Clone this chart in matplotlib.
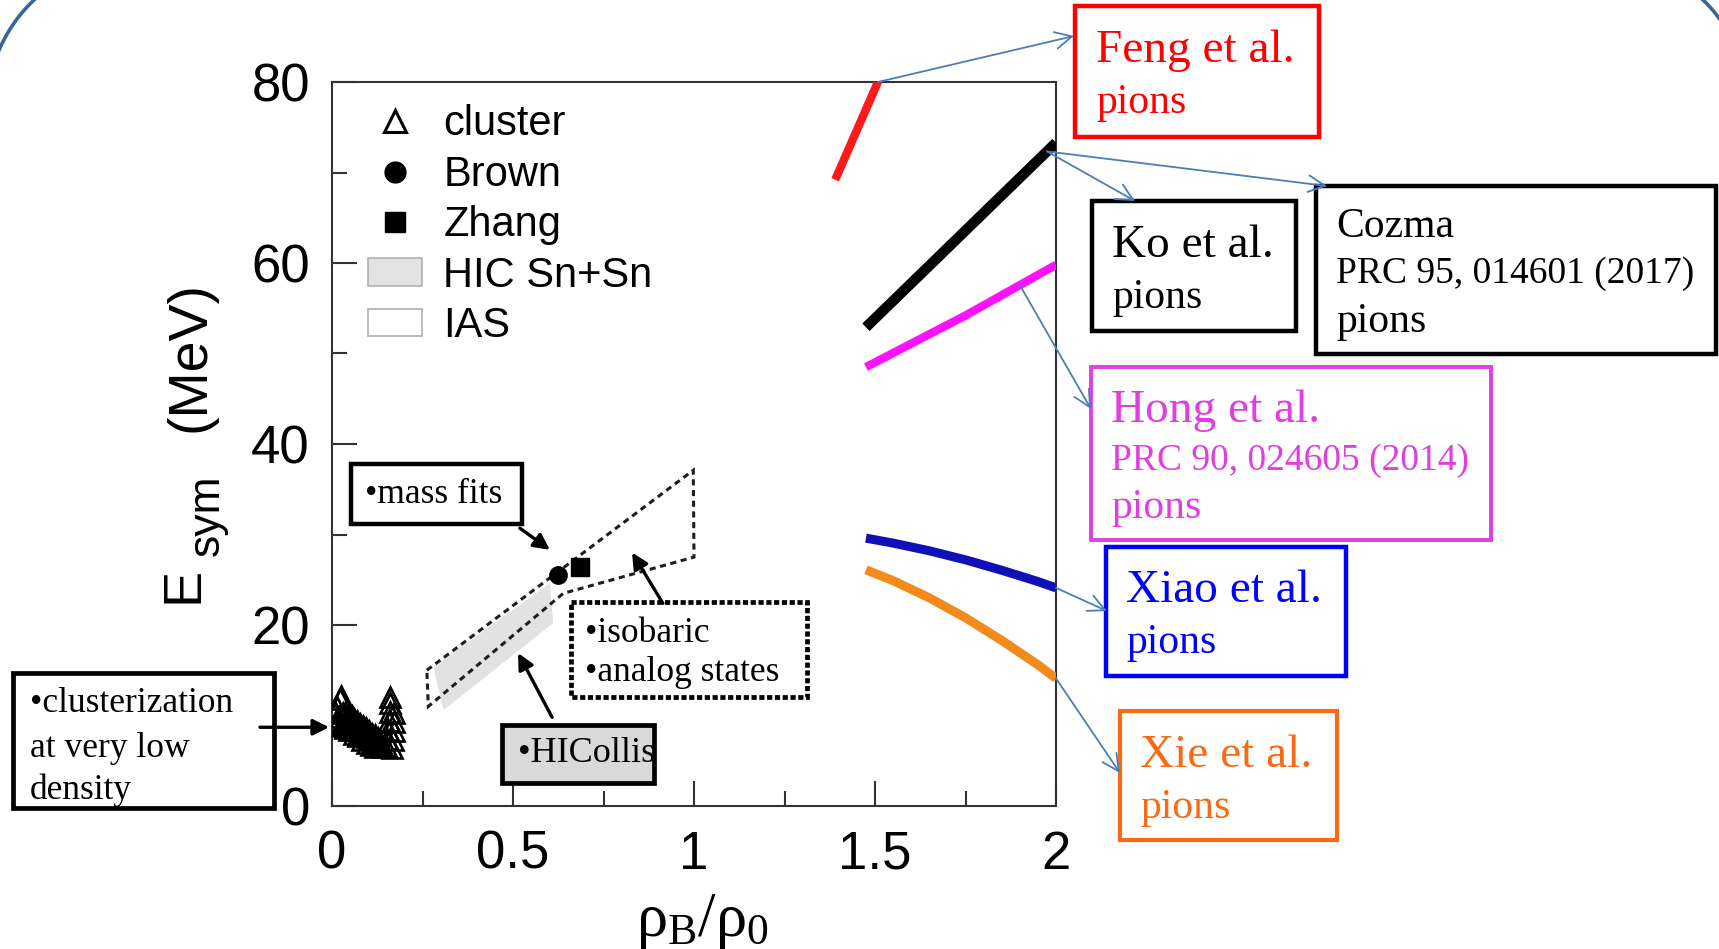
import numpy as np
import matplotlib
matplotlib.use("Agg")
import matplotlib.pyplot as plt
from matplotlib.patches import Rectangle, Polygon, Arc, Patch
from matplotlib.lines import Line2D

# ---------------- data ----------------
cluster_x = [0.006, 0.010, 0.014, 0.018, 0.022, 0.026, 0.030, 0.034, 0.038, 0.042,
             0.046, 0.050, 0.054, 0.058, 0.062, 0.066, 0.070, 0.074, 0.078, 0.082,
             0.086, 0.090, 0.094, 0.098, 0.102, 0.106, 0.110, 0.114, 0.118, 0.122,
             0.126, 0.130, 0.136, 0.142, 0.148,
             0.012, 0.024, 0.036, 0.048, 0.060, 0.072, 0.084, 0.096, 0.108, 0.120,
             0.152, 0.156, 0.158, 0.160, 0.161, 0.160, 0.166, 0.168, 0.170, 0.172, 0.172]
cluster_y = [10.6, 9.4, 10.9, 9.8, 11.8, 12.2, 10.3, 9.2, 10.5, 9.6,
             10.2, 9.0, 9.9, 8.8, 9.6, 8.6, 9.4, 8.3, 9.1, 8.1,
             8.8, 7.8, 8.6, 7.6, 8.3, 7.4, 8.0, 7.2, 7.8, 7.0,
             7.5, 6.8, 6.7, 6.5, 6.6,
             8.8, 9.0, 8.6, 8.4, 8.0, 7.7, 7.3, 7.0, 6.7, 6.5,
             7.4, 8.4, 9.4, 10.4, 11.4, 12.0, 6.4, 7.3, 8.3, 9.3, 10.3]

brown_x, brown_y = [0.624], [25.5]
zhang_x, zhang_y = [0.685], [26.4]

hic_x = [0.280, 0.602, 0.611, 0.308]
hic_y = [15.4, 24.6, 20.2, 10.6]

ias_x = [0.262, 0.998, 1.000, 0.639, 0.266]
ias_y = [15.0, 37.1, 27.5, 23.5, 11.0]

feng_x = [1.39, 1.53]
feng_y = [69.2, 82.0]
ko_x = [1.475, 2.0]
ko_y = [52.9, 73.3]
hong_x = [1.475, 1.75, 2.0]
hong_y = [48.5, 54.2, 59.8]
xiao_x = [1.475, 1.55, 1.65, 1.75, 1.85, 1.95, 2.0]
xiao_y = [29.6, 29.05, 28.2, 27.2, 26.05, 24.8, 24.1]
xie_x = [1.475, 1.55, 1.65, 1.75, 1.85, 1.95, 2.0]
xie_y = [26.1, 24.9, 23.0, 20.8, 18.3, 15.6, 14.1]

xticks = [0, 0.5, 1, 1.5, 2]
xticklabels = ["0", "0.5", "1", "1.5", "2"]
xminor = [0.25, 0.75, 1.25, 1.75]
yticks = [0, 20, 40, 60, 80]
yticklabels = ["0", "20", "40", "60", "80"]
yminor = [10, 30, 50, 70]

legend_labels = ["cluster", "Brown", "Zhang", "HIC Sn+Sn", "IAS"]

# ---------------- figure ----------------
plt.rcParams["mathtext.fontset"] = "custom"
plt.rcParams["mathtext.rm"] = "Liberation Serif"
plt.rcParams["mathtext.it"] = "Liberation Serif"
plt.rcParams["mathtext.bf"] = "Liberation Serif:bold"

W, H = 1719, 949
fig = plt.figure(figsize=(W / 100, H / 100), dpi=100)
fig.patch.set_facecolor("white")

L, R, T, B = 332, 1056, 82, 806
ax = fig.add_axes([L / W, 1 - B / H, (R - L) / W, (B - T) / H])
ax.set_xlim(0, 2)
ax.set_ylim(0, 80)

sans = "Liberation Sans"
serif = "Liberation Serif"

# bands
ax.add_patch(Polygon(np.column_stack([hic_x, hic_y]), closed=True,
                     facecolor="#e2e2e2", edgecolor="none", zorder=1))
ax.add_patch(Polygon(np.column_stack([ias_x, ias_y]), closed=True, fill=False,
                     edgecolor="#1e1e1e", lw=2.2, linestyle=(0, (2.0, 1.5)), zorder=2))

# points
ax.plot(cluster_x, cluster_y, ls="none", marker="^", ms=15, mfc="none",
        mec="black", mew=1.9, zorder=3)
ax.plot(brown_x, brown_y, ls="none", marker="o", ms=12.5, color="black", zorder=4)
ax.plot(zhang_x, zhang_y, ls="none", marker="s", ms=12.5, color="black", zorder=4)

# pion-based curves
ax.plot(feng_x, feng_y, color="#ff1a1a", lw=6, solid_capstyle="butt", zorder=4)
ax.plot(ko_x, ko_y, color="black", lw=7.5, solid_capstyle="butt", zorder=4)
ax.plot(hong_x, hong_y, color="#ff10ff", lw=6, solid_capstyle="butt", zorder=4)
ax.plot(xiao_x, xiao_y, color="#1010b8", lw=6.5, solid_capstyle="butt", zorder=4)
ax.plot(xie_x, xie_y, color="#f28a1c", lw=6.5, solid_capstyle="butt", zorder=4)

# axes styling
for s in ax.spines.values():
    s.set_linewidth(1.5)
    s.set_color("#333333")
ax.set_xticks(xticks)
ax.set_xticklabels(xticklabels)
ax.set_xticks(xminor, minor=True)
ax.set_yticks(yticks)
ax.set_yticklabels(yticklabels)
ax.set_yticks(yminor, minor=True)
ax.tick_params(which="major", direction="in", length=18, width=1.5,
               labelsize=38, color="#333333")
ax.tick_params(which="minor", direction="in", length=11, width=1.5, color="#333333")
ax.tick_params(axis="x", which="major", pad=17)
ax.tick_params(axis="y", which="major", pad=16)
for lab in ax.get_xticklabels() + ax.get_yticklabels():
    lab.set_fontfamily(sans)

# legend
handles = [
    Line2D([], [], ls="none", marker="^", ms=16, mfc="white", mec="black", mew=2.2),
    Line2D([], [], ls="none", marker="o", ms=15, color="black"),
    Line2D([], [], ls="none", marker="s", ms=14, color="black"),
    Patch(facecolor="#e3e3e3", edgecolor="#b0b0b0", lw=1.2),
    Patch(facecolor="white", edgecolor="#b0b0b0", lw=1.2),
]
ax.legend(handles, legend_labels, loc="upper left", bbox_to_anchor=(0.05, 0.969),
          frameon=False, borderaxespad=0, borderpad=0, handlelength=1.3,
          handletextpad=0.5, labelspacing=0.25, handleheight=0.65,
          prop={"family": sans, "size": 30})

# black pointer arrows inside the plot
black_arrow = dict(arrowstyle="-|>", lw=2.4, color="black", mutation_scale=24,
                   shrinkA=0, shrinkB=0)
ax.annotate("", xy=(0.602, 28.3), xytext=(0.519, 30.7), arrowprops=black_arrow, zorder=6)
ax.annotate("", xy=(0.829, 28.0), xytext=(0.914, 22.4), arrowprops=black_arrow, zorder=6)
ax.annotate("", xy=(0.514, 16.9), xytext=(0.608, 9.8), arrowprops=black_arrow, zorder=6)
ax.annotate("", xy=(-0.008, 8.7), xytext=(-0.199, 8.7), arrowprops=black_arrow,
            annotation_clip=False, zorder=6)

# ---------------- overlay in pixel coordinates (y down) ----------------
ov = fig.add_axes([0, 0, 1, 1], zorder=10)
ov.set_xlim(0, W)
ov.set_ylim(H, 0)
ov.axis("off")
ov.patch.set_visible(False)


def box(x0, y0, x1, y1, ec, lw, ls="-", fc="none"):
    r = Rectangle((x0, y0), x1 - x0, y1 - y0, facecolor=fc, fill=(fc != "none"),
                  edgecolor=ec, lw=lw, linestyle=ls, zorder=5)
    ov.add_patch(r)
    return r


def label(x, y, s, size, color="black", clip=None):
    t = ov.text(x, y, s, fontsize=size, family=serif, color=color,
                ha="left", va="baseline", zorder=6)
    if clip is not None:
        t.set_clip_path(clip)
    return t


# slide frame corners
frame_col = "#3a6598"
ov.add_patch(Arc((137, 109), 300, 300, theta1=190, theta2=245, color=frame_col, lw=2.6))
ov.add_patch(Arc((1599, 108), 300, 300, theta1=-60, theta2=-25, color=frame_col, lw=2.6))

# y-axis title
ov.text(205, 357, "(MeV)", rotation=90, rotation_mode="anchor", ha="center",
        va="baseline", fontsize=40, family=sans)
ov.text(198, 585, "E", rotation=90, rotation_mode="anchor", ha="center",
        va="baseline", fontsize=39, family=sans)
ov.text(219, 515, "sym", rotation=90, rotation_mode="anchor", ha="center",
        va="baseline", fontsize=32, family=sans)
# x-axis title
ov.text(702, 936, r"$\rho_\mathrm{B}/\rho_0$", ha="center", va="baseline", fontsize=45)

# boxes on the left part
box(351, 464, 522, 524, "black", 3.2)
label(365, 503, "\u2022mass fits", 25.5)

box(571, 602, 807, 697, "black", 3.4, ls=(0, (1.1, 0.55)))
label(585, 642, "\u2022isobaric", 25.5)
label(585, 681, "\u2022analog states", 25.5)

hic_box = box(502, 725, 654, 783, "black", 3.4, fc="#d9d9d9")
label(518, 762, "\u2022HICollis", 26, clip=hic_box)

cl_box = box(13, 673, 274, 808, "black", 3.4)
label(30, 712, "\u2022clusterization", 25.5)
label(30, 757, "at very low", 25.5)
label(30, 799, "density", 25.5, clip=cl_box)

# boxes on the right part
red, mag, blue, orange = "#ff0000", "#e03fe0", "#0000ff", "#f86b16"
box(1075, 6, 1319, 137, red, 3.2)
label(1096, 62, "Feng et al.", 34, red)
label(1096, 113, "pions", 30, red)

box(1092, 201, 1296, 331, "black", 3.2)
label(1112, 257, "Ko et al.", 34)
label(1112, 308, "pions", 30)

box(1316, 186, 1716, 354, "black", 3.2)
label(1336, 237, "Cozma", 30)
label(1336, 283, "PRC 95, 014601 (2017)", 27)
label(1336, 332, "pions", 30)

box(1091, 367, 1491, 540, mag, 2.8)
label(1111, 422, "Hong et al.", 34, mag)
label(1111, 470, "PRC 90, 024605 (2014)", 27, mag)
label(1111, 518, "pions", 30, mag)

box(1106, 547, 1346, 676, blue, 3.2)
label(1126, 602, "Xiao et al.", 34, blue)
label(1126, 653, "pions", 30, blue)

box(1120, 711, 1337, 840, orange, 3.0)
label(1140, 767, "Xie et al.", 34, orange)
label(1140, 818, "pions", 30, orange)

# thin pointer arrows from the curves to their boxes
ptr = dict(arrowstyle="->", lw=1.3, color="#4a7ebb", mutation_scale=30,
           shrinkA=0, shrinkB=0)
feng_top = (float(np.interp(80, feng_y, feng_x)), 80.0)
ko_pt = (1.975, float(np.interp(1.975, ko_x, ko_y)))
hong_pt = (1.9, float(np.interp(1.9, hong_x, hong_y)))
xiao_end = (xiao_x[-1], xiao_y[-1])
xie_end = (xie_x[-1], xie_y[-1])
for start, end in [(feng_top, (1074, 36)), (ko_pt, (1135, 201)),
                   (ko_pt, (1327, 186)), (hong_pt, (1091, 409)),
                   (xiao_end, (1107, 611)), (xie_end, (1120, 773))]:
    ov.annotate("", xy=end, xycoords="data", xytext=start, textcoords=ax.transData,
                arrowprops=ptr, zorder=7)

fig.savefig("out.png", dpi=100, facecolor="white")
